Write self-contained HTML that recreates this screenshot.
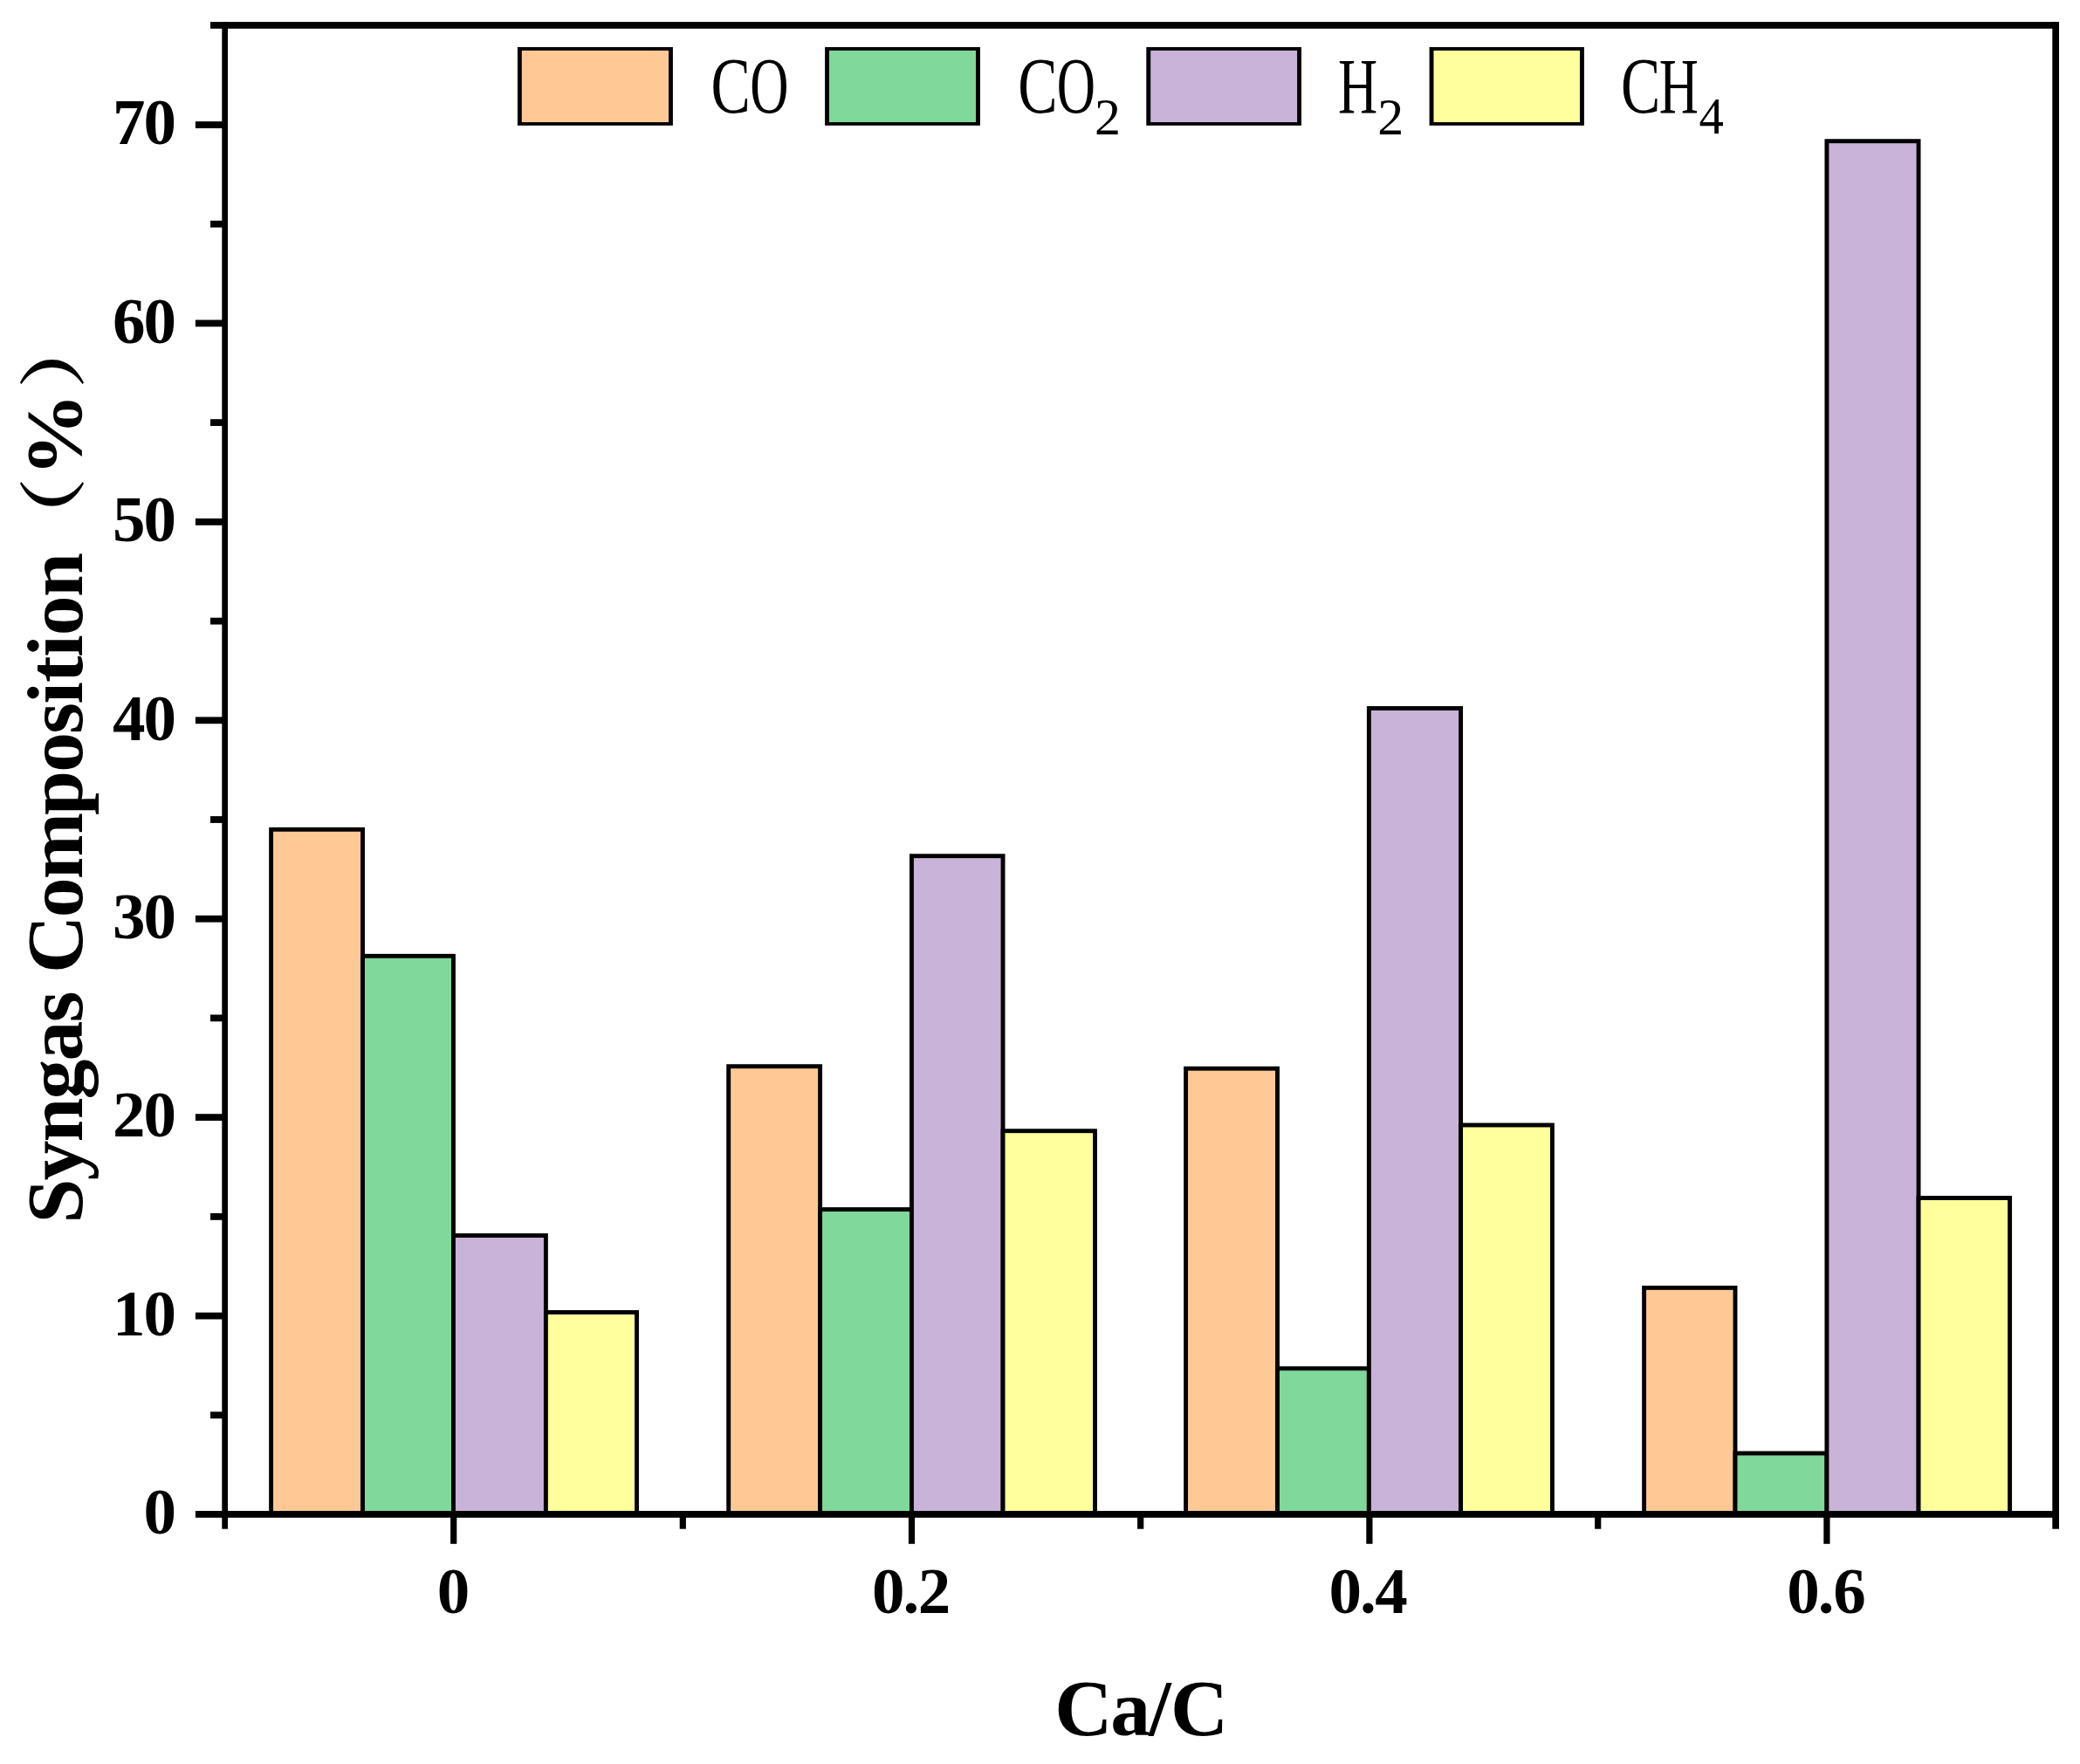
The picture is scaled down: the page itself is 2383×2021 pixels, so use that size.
<!DOCTYPE html>
<html lang="en"><head><meta charset="utf-8"><title>Syngas Composition vs Ca/C</title>
<style>html,body{margin:0;padding:0;background:#fff}body{width:2383px;height:2021px;overflow:hidden}svg{display:block}
text{fill:#000;font-kerning:none}
.tb{font-family:"Liberation Serif","Noto Serif CJK SC",serif;font-weight:bold}
.lg{font-family:"Liberation Serif","Noto Serif CJK SC",serif;font-weight:normal}
.cj{font-family:"Noto Serif CJK SC","Liberation Serif",serif;font-weight:bold}
</style></head><body>
<svg width="2383" height="2021" viewBox="0 0 2383 2021">
<rect x="0" y="0" width="2383" height="2021" fill="#fff"/>
<g stroke="#000" stroke-width="4.90" stroke-linejoin="miter">
<rect x="310.60" y="950.30" width="104.90" height="784.70" fill="#FEC994"/>
<rect x="834.70" y="1221.70" width="104.90" height="513.30" fill="#FEC994"/>
<rect x="1358.60" y="1224.20" width="104.90" height="510.80" fill="#FEC994"/>
<rect x="1883.60" y="1475.40" width="104.40" height="259.60" fill="#FEC994"/>
<rect x="415.50" y="1095.30" width="103.95" height="639.70" fill="#80D89B"/>
<rect x="939.60" y="1385.60" width="104.85" height="349.40" fill="#80D89B"/>
<rect x="1463.50" y="1567.80" width="104.85" height="167.20" fill="#80D89B"/>
<rect x="1988.00" y="1665.00" width="104.90" height="70.00" fill="#80D89B"/>
<rect x="519.45" y="1415.50" width="105.95" height="319.50" fill="#C9B3D8"/>
<rect x="1044.45" y="980.70" width="104.60" height="754.30" fill="#C9B3D8"/>
<rect x="1568.35" y="811.50" width="105.25" height="923.50" fill="#C9B3D8"/>
<rect x="2092.90" y="161.70" width="105.15" height="1573.30" fill="#C9B3D8"/>
<rect x="625.40" y="1503.50" width="104.10" height="231.50" fill="#FFFF9C"/>
<rect x="1149.05" y="1295.70" width="105.45" height="439.30" fill="#FFFF9C"/>
<rect x="1673.60" y="1289.00" width="104.80" height="446.00" fill="#FFFF9C"/>
<rect x="2198.05" y="1372.50" width="104.55" height="362.50" fill="#FFFF9C"/>
</g>
<g fill="#000">
<rect x="254.3" y="25.1" width="6.7" height="1726.6"/>
<rect x="2351.3" y="25.1" width="7.7" height="1726.6"/>
<rect x="241.0" y="25.1" width="2118.0" height="7.7"/>
<rect x="223.9" y="1731.0" width="2135.1" height="7.8"/>
<rect x="241.0" y="1617.4" width="15.0" height="7.8"/>
<rect x="223.9" y="1503.7" width="32.1" height="7.8"/>
<rect x="241.0" y="1390.0" width="15.0" height="7.8"/>
<rect x="223.9" y="1276.2" width="32.1" height="7.8"/>
<rect x="241.0" y="1162.5" width="15.0" height="7.8"/>
<rect x="223.9" y="1048.8" width="32.1" height="7.8"/>
<rect x="241.0" y="935.1" width="15.0" height="7.8"/>
<rect x="223.9" y="821.4" width="32.1" height="7.8"/>
<rect x="241.0" y="707.7" width="15.0" height="7.8"/>
<rect x="223.9" y="594.0" width="32.1" height="7.8"/>
<rect x="241.0" y="480.2" width="15.0" height="7.8"/>
<rect x="223.9" y="366.5" width="32.1" height="7.8"/>
<rect x="241.0" y="252.8" width="15.0" height="7.8"/>
<rect x="223.9" y="139.1" width="32.1" height="7.8"/>
<rect x="516.1" y="1735.0" width="7.2" height="33.8"/>
<rect x="778.7" y="1735.0" width="7.2" height="16.7"/>
<rect x="1040.9" y="1735.0" width="7.2" height="33.8"/>
<rect x="1303.1" y="1735.0" width="7.2" height="16.7"/>
<rect x="1565.3" y="1735.0" width="7.2" height="33.8"/>
<rect x="1827.1" y="1735.0" width="7.2" height="16.7"/>
<rect x="2089.3" y="1735.0" width="7.2" height="33.8"/>
</g>
<g class="tb" font-size="75.00">
<text x="164.60" y="1757.3">0</text>
<text x="129.09 164.60" y="1529.9">10</text>
<text x="129.09 164.60" y="1302.4">20</text>
<text x="129.09 164.60" y="1075.0">30</text>
<text x="129.09 164.60" y="847.6">40</text>
<text x="129.09 164.60" y="620.2">50</text>
<text x="129.09 164.60" y="392.7">60</text>
<text x="129.09 164.60" y="165.3">70</text>
<text x="500.85" y="1848.4">0</text>
<text x="999.01 1034.51 1051.86" y="1848.4">0.2</text>
<text x="1522.49 1557.99 1575.34" y="1848.4">0.4</text>
<text x="2047.30 2082.80 2100.15" y="1848.4">0.6</text>
</g>
<text class="tb" font-size="91.67" x="1208.26 1272.14 1316.37 1340.95" y="1988.4">Ca/C</text>
<g transform="translate(93.8,1401.6) rotate(-90)">
<text class="tb" font-size="91.67" x="0.00 49.02 93.09 142.11 186.18 230.25 264.55 286.59 350.24 394.31 467.73 516.75 560.82 595.12 619.61 648.96 673.45 717.52" y="0">Syngas Composition</text>
</g>
<text class="cj" font-size="100" transform="translate(88.82,638.43) rotate(-90) scale(0.9164,0.7717)">（</text>
<text class="tb" font-size="100" transform="translate(93.11,545.79) rotate(-90) scale(0.9543,0.9038)">%</text>
<text class="cj" font-size="100" transform="translate(88.82,445.43) rotate(-90) scale(0.9365,0.7717)">）</text>
<rect x="592.9" y="54.0" width="178.0" height="89.8" fill="#000"/>
<rect x="597.8" y="57.9" width="168.2" height="82.1" fill="#FEC994"/>
<rect x="945.1" y="54.0" width="177.8" height="89.8" fill="#000"/>
<rect x="950.0" y="57.9" width="168.0" height="82.1" fill="#80D89B"/>
<rect x="1313.3" y="54.0" width="177.7" height="89.8" fill="#000"/>
<rect x="1318.2" y="57.9" width="167.9" height="82.1" fill="#C9B3D8"/>
<rect x="1637.6" y="54.0" width="177.3" height="89.8" fill="#000"/>
<rect x="1642.5" y="57.9" width="167.5" height="82.1" fill="#FFFF9C"/>
<text class="lg" font-size="100" transform="translate(814.62,129.41) scale(0.6780,0.9109)">C</text>
<text class="lg" font-size="100" transform="translate(859.19,129.41) scale(0.6124,0.9109)">O</text>
<text class="lg" font-size="100" transform="translate(1166.22,129.41) scale(0.6780,0.9109)">C</text>
<text class="lg" font-size="100" transform="translate(1210.79,129.41) scale(0.6124,0.9109)">O</text>
<text class="lg" font-size="100" transform="translate(1254.07,153.50) scale(0.5987,0.6011)">2</text>
<text class="lg" font-size="100" transform="translate(1533.10,130.00) scale(0.6249,0.9102)">H</text>
<text class="lg" font-size="100" transform="translate(1578.37,153.50) scale(0.5987,0.6011)">2</text>
<text class="lg" font-size="100" transform="translate(1857.12,129.41) scale(0.6780,0.9109)">C</text>
<text class="lg" font-size="100" transform="translate(1900.80,130.00) scale(0.6249,0.9102)">H</text>
<text class="lg" font-size="100" transform="translate(1946.49,153.30) scale(0.5679,0.5925)">4</text>
</svg></body></html>
